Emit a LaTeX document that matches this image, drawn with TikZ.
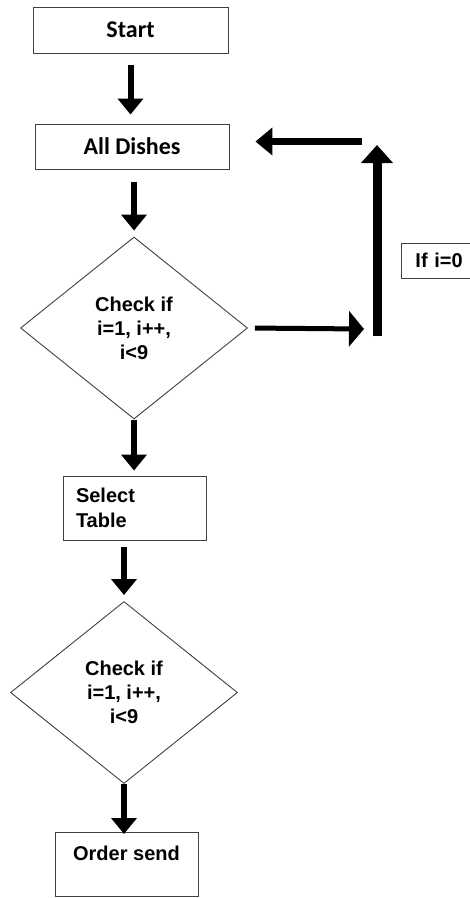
\documentclass[tikz,border=0pt]{standalone}
\usepackage{fontspec}
\setmainfont{Liberation Sans}
\newfontfamily\calibri{Carlito}
\usetikzlibrary{shapes.geometric,arrows.meta}

\begin{document}
\begin{tikzpicture}[x=1pt, y=-1pt,
    box/.style={rectangle, draw=black!75, line width=0.9pt, inner sep=0pt,
      font=\fontsize{20}{25}\selectfont\bfseries},
    check/.style={diamond, draw=black!75, line width=0.9pt, inner sep=0pt,
      minimum width=227pt, minimum height=182pt, align=center,
      font=\fontsize{20}{24}\selectfont\bfseries},
    arr/.style={-{Triangle[width=25pt,length=16pt]}, line width=6pt}]
                \path[use as bounding box, clip] (0,0) rectangle (470,898);

                % Nodes
                \node[box, minimum width=195pt, minimum height=46pt,
                  font=\fontsize{24}{28}\calibri\bfseries] (start) at (130.5, 30) {Start};
                \node[box, minimum width=194pt, minimum height=45pt,
                  font=\fontsize{24}{28}\calibri\bfseries] (dishes) at (132, 146.5) {All Dishes};
                \node[check] (check1) at (134, 328) {Check if\\i=1, i++,\\i<9}; % first loop
                \node[box, minimum height=64pt, text width=117pt, inner xsep=13pt,
                  align=left] (table) at (134.5, 508) {Select\\Table};
                \node[check] (check2) at (124, 692.5) {Check if\\i=1, i++,\\i<9}; % second loop
                \node[box, minimum width=143pt, inner ysep=8pt, text height=20pt,
                  text depth=28pt, anchor=north] (order) at (126.5, 832) {Order send};
                \node[box, minimum width=80pt, minimum height=35pt, inner xsep=14pt,
                  align=left, text width=52pt, anchor=west] (cond) at (401, 260.5) {If i=0};

                % Loop corners
                \coordinate (rt) at (364, 329);
                \coordinate (bot) at (377, 336);
                \coordinate (top) at (377, 145);
                \coordinate (lt) at (362, 141.5);

                % Edges
                \draw[arr, shorten <=12pt, shorten >=9pt] (start) -- (start |- dishes.north);
                \draw[arr, shorten <=13pt, shorten >=6pt] (check1.north |- dishes.south) -- (check1.north);
                \draw[arr, shorten <=1pt, shorten >=5pt] (check1.south) -- (check1.south |- table.north);
                \draw[arr, shorten <=7pt, shorten >=6pt] (check2.north |- table.south) -- (check2.north);
                \draw[arr, shorten >=-2pt] (check2.south) -- (check2.south |- order.north);
                \draw[arr, line width=5pt, -{Triangle[width=35pt,length=15pt]}, shorten <=7pt] (check1.east) -- (rt);
                \draw[arr, line width=9pt, -{Triangle[width=31pt,length=18pt]}] (bot) -- (top);
                \draw[arr, line width=7pt, -{Triangle[width=27pt,length=17pt]}, shorten >=26pt] (lt) -- (lt -| dishes.east);
            \end{tikzpicture}
\end{document}
